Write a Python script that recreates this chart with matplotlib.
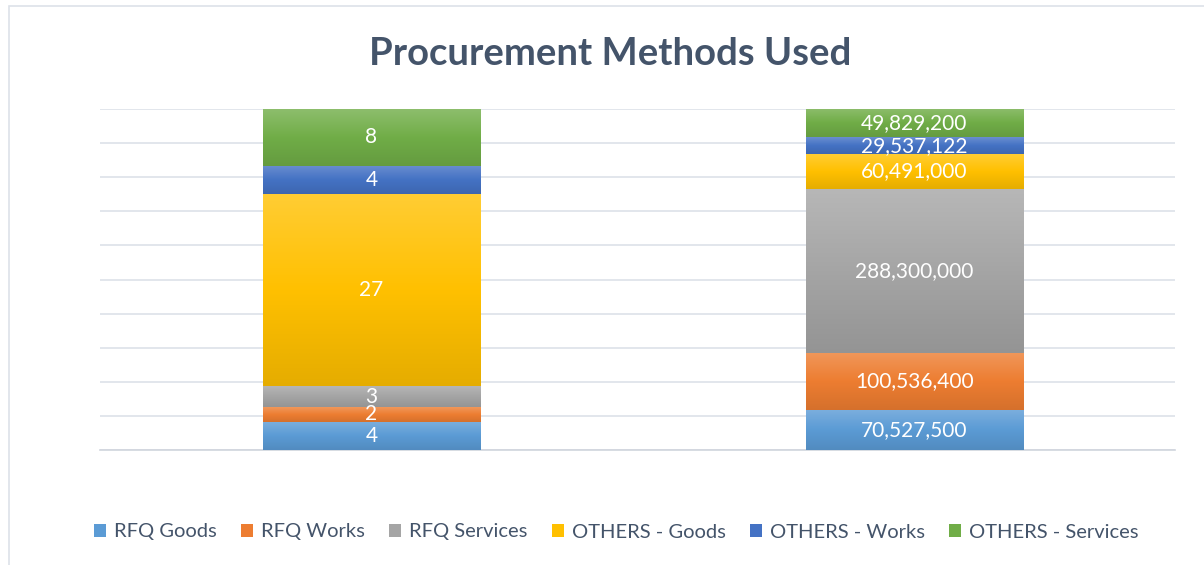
import matplotlib
matplotlib.use("Agg")
import matplotlib.pyplot as plt
import numpy as np
from matplotlib.colors import LinearSegmentedColormap, to_rgb
from matplotlib.patches import Rectangle

# data
groups = ["Count", "Amount"]
series = ["RFQ Goods", "RFQ Works", "RFQ Services",
          "OTHERS - Goods", "OTHERS - Works", "OTHERS - Services"]
count_vals = [4, 2, 3, 27, 4, 8]
amount_vals = [70527500, 100536400, 288300000, 60491000, 29537122, 49829200]
colors = ["#5B9BD5", "#ED7D31", "#A5A5A5", "#FFC000", "#4472C4", "#70AD47"]

plt.rcParams['font.family'] = ['Lato', 'DejaVu Sans']
text_col = "#44546A"

fig = plt.figure(figsize=(12.04, 5.65), dpi=100)
ax = fig.add_axes([100 / 1204, 1 - 450 / 565, 1075 / 1204, 341 / 565])

# chart border
fig.patches.append(Rectangle((9 / 1204, -0.01), 1.0, 1 - 6 / 565 + 0.01,
                             transform=fig.transFigure, fill=False,
                             edgecolor="#DDE2E9", linewidth=1.2))


def shade(c):
    r = np.array(to_rgb(c))
    light = r + (1 - r) * 0.2
    dark = r * 0.9
    return LinearSegmentedColormap.from_list("g", [dark, r, light])


grad = np.linspace(0, 1, 64).reshape(-1, 1)
totals = [sum(count_vals), sum(amount_vals)]
data = list(zip(count_vals, amount_vals))
bottoms = [0.0, 0.0]
for i, name in enumerate(series):
    vals = data[i]
    pct = [vals[j] / totals[j] * 100 for j in range(2)]
    bars = ax.bar([0, 1], pct, bottom=bottoms, width=0.4, color=colors[i],
                  label=name, zorder=3)
    for j, b in enumerate(bars):
        x0, y0, w, h = b.get_x(), b.get_y(), b.get_width(), b.get_height()
        im = ax.imshow(grad, cmap=shade(colors[i]), aspect="auto",
                       origin="lower", extent=(x0, x0 + w, y0, y0 + h),
                       zorder=3.1, interpolation="bilinear")
        im.set_clip_path(b)
        ax.text(j, bottoms[j] + pct[j] / 2, f"{vals[j]:,}", ha="center",
                va="center", color="white", fontsize=15, zorder=4)
    bottoms = [bottoms[j] + pct[j] for j in range(2)]

ax.set_xlim(-0.5, 1.48)
ax.set_ylim(0, 100)
ax.set_yticks(range(0, 101, 10))
ax.yaxis.grid(True, color="#DDE2E9", linewidth=1.2, zorder=0)
ax.set_xticks([])
ax.tick_params(left=False, labelleft=False)
for s in ["top", "right", "left"]:
    ax.spines[s].set_visible(False)
ax.spines["bottom"].set_color("#D0D5DD")
ax.spines["bottom"].set_linewidth(1.2)

fig.text(0.507, 1 - 54 / 565, "Procurement Methods Used", ha="center",
         va="center", fontsize=27.5, fontweight="bold", color=text_col)

fig.legend(loc="center", bbox_to_anchor=(0.512, 1 - 532 / 565), ncol=6,
           frameon=False, fontsize=14.5, handlelength=0.6, handleheight=0.6,
           handletextpad=0.4, columnspacing=1.2, labelcolor=text_col)

fig.savefig("out.png", dpi=100)
